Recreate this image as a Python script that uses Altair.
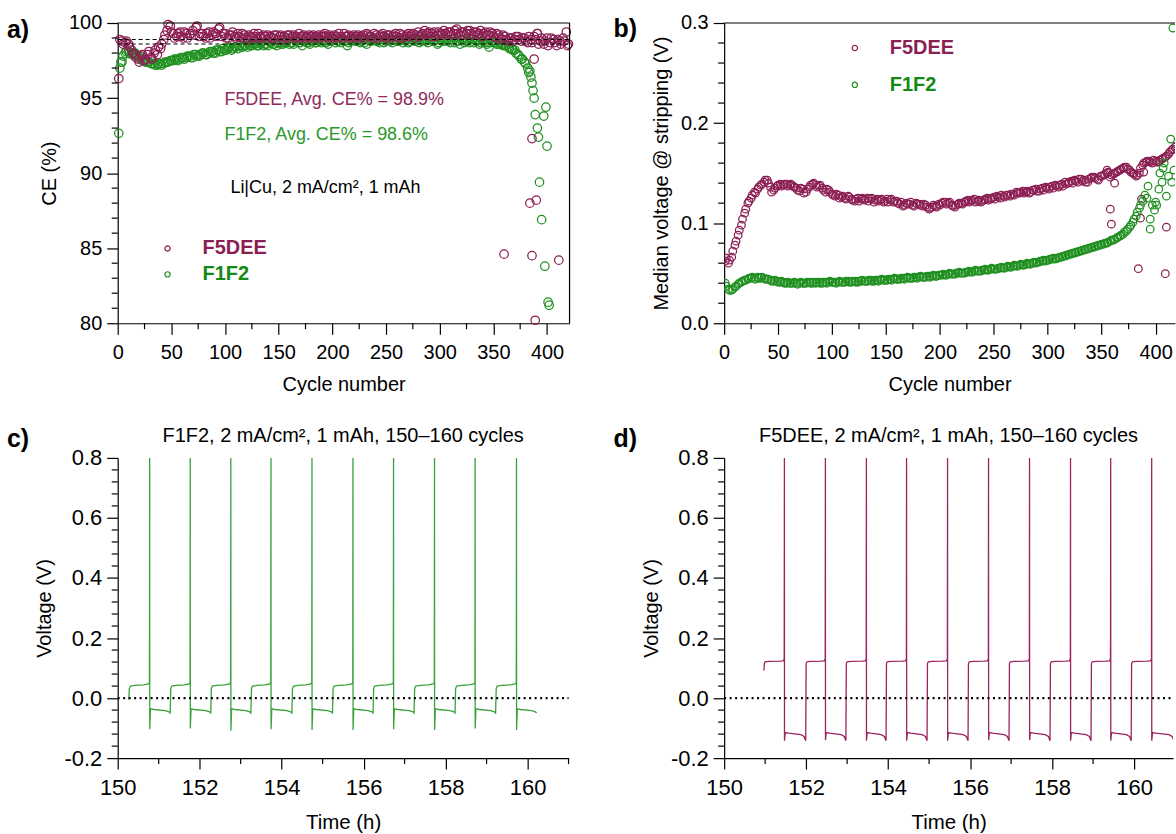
import altair as alt
import pandas as pd

FONT = "Liberation Sans"
MAROON = "#8B1E52"
GREEN = "#1F8F1F"
MAROON_TXT = "#8E2A5C"
GREEN_TXT = "#2A982A"
MAROON_LINE = "#9C2261"
GREEN_LINE = "#3AA23A"

# ---------------- panel a: Coulombic efficiency (%) ----------------
# series read every 3rd cycle: *_ce from cycle 1, *_ce2 from cycle 2 (F5DEE) / 5 (F1F2)
a_f5_ce = [96.3, 98.8, 98.7, 98.6, 98.2, 97.9, 97.6, 97.8, 97.5, 97.9,
           97.7, 98.0, 97.9, 98.3, 98.9, 99.5, 99.8, 99.3, 99.1, 99.4,
           99.0, 99.3, 99.2, 99.5, 99.7, 99.1, 99.3, 99.0, 99.4, 99.2,
           99.3, 99.6, 99.1, 99.3, 99.0, 99.2, 99.1, 99.3, 99.0, 99.2,
           98.9, 99.1, 99.3, 99.0, 99.1, 99.2, 98.9, 99.1, 99.0, 99.2,
           99.1, 98.9, 99.0, 99.2, 99.1, 99.0, 99.3, 99.1, 99.0, 99.2,
           99.1, 99.0, 99.2, 99.1, 99.3, 99.0, 99.1, 99.2, 99.0, 99.1,
           99.3, 99.1, 99.0, 99.2, 99.1, 99.0, 99.2, 99.3, 99.1, 99.0,
           99.2, 99.1, 99.3, 99.0, 99.2, 99.1, 99.3, 99.0, 99.2, 99.1,
           99.3, 99.2, 99.0, 99.4, 99.2, 99.5, 99.3, 99.1, 99.4, 99.2,
           99.3, 99.5, 99.2, 99.4, 99.3, 99.6, 99.2, 99.4, 99.3, 99.5,
           99.2, 99.4, 99.3, 99.1, 99.4, 99.2, 99.3, 99.0, 99.2, 98.9,
           99.1, 98.8, 99.0, 98.9, 99.1, 98.8, 99.0, 98.7, 98.9, 99.1,
           99.3, 98.8, 98.6, 99.0, 98.7, 98.9, 98.5, 98.8, 99.0, 99.4]
a_f5_ce2 = [98.9, 98.6, 98.8, 98.4, 98.0, 97.7, 97.4, 97.9, 97.6, 98.1,
            97.6, 98.2, 98.4, 98.6, 99.2, 99.9, 99.4, 99.0, 99.3, 99.1,
            99.4, 99.0, 99.3, 99.2, 99.8, 99.3, 99.1, 99.3, 99.0, 99.4,
            99.1, 99.7, 99.3, 99.0, 99.2, 99.4, 99.0, 99.1, 99.3, 99.0,
            99.2, 99.0, 99.1, 99.3, 99.0, 99.1, 99.2, 99.0, 99.2, 98.9,
            99.2, 99.1, 99.2, 99.0, 99.2, 99.1, 99.0, 99.2, 99.1, 99.0,
            99.2, 99.1, 99.0, 99.2, 99.1, 99.2, 99.0, 99.1, 99.3, 99.0,
            99.1, 99.2, 99.1, 99.0, 99.2, 99.1, 99.0, 99.2, 99.1, 99.3,
            99.0, 99.2, 99.1, 99.2, 99.0, 99.2, 99.1, 99.3, 99.0, 99.2,
            99.1, 99.3, 99.2, 99.1, 99.3, 99.2, 99.4, 99.3, 99.1, 99.4,
            99.2, 99.3, 99.4, 99.2, 99.5, 99.3, 99.4, 99.2, 99.5, 99.3,
            99.4, 99.2, 99.5, 99.3, 99.2, 99.4, 99.1, 99.3, 99.0, 99.2,
            98.9, 99.0, 98.8, 99.1, 98.9, 99.0, 98.8, 99.1, 98.7, 98.9,
            98.6, 99.0, 98.8, 98.5, 99.0, 98.7, 98.9, 98.6, 98.8, 98.5]
a_f5_extra_cycle = [360, 384, 386, 386, 388, 389, 390, 391, 411, 420]
a_f5_extra_ce = [84.6, 88.0, 84.5, 92.3, 97.6, 80.2, 88.2, 99.3, 84.2, 98.6]

a_f1_ce = [92.65, 97.4, 98.0, 98.1, 97.9, 98.0, 97.8, 97.6, 97.5, 97.4,
           97.3, 97.3, 97.2, 97.3, 97.3, 97.4, 97.5, 97.5, 97.6, 97.6,
           97.7, 97.7, 97.8, 97.7, 97.9, 97.8, 98.0, 97.9, 98.0, 98.1,
           98.0, 98.2, 98.1, 98.2, 98.3, 98.2, 98.4, 98.3, 98.4, 98.5,
           98.4, 98.5, 98.6, 98.5, 98.6, 98.5, 98.6, 98.7, 98.6, 98.5,
           98.7, 98.6, 98.7, 98.6, 98.7, 98.8, 98.7, 98.5, 98.8, 98.7,
           98.8, 98.7, 98.8, 98.7, 98.8, 98.6, 98.8, 98.9, 98.8, 98.7,
           98.8, 98.5, 98.8, 98.9, 98.8, 98.7, 98.9, 98.6, 98.8, 98.9,
           98.8, 98.7, 98.9, 98.8, 98.9, 98.7, 98.9, 98.8, 98.9, 98.8,
           98.7, 98.9, 98.8, 98.9, 98.8, 98.9, 98.7, 98.9, 98.8, 98.6,
           98.9, 98.8, 98.9, 98.7, 98.9, 98.8, 98.6, 98.9, 98.8, 98.7,
           98.9, 98.8, 98.6, 98.8, 98.7, 98.4, 98.8, 98.7, 98.6, 98.6,
           98.5, 98.4, 98.3, 98.2, 97.9, 97.6, 97.4, 97.0]
a_f1_ce2 = [97.8, 98.1, 98.0, 98.0, 97.9, 97.7, 97.5, 97.4, 97.4, 97.3,
            97.2, 97.3, 97.2, 97.4, 97.4, 97.5, 97.6, 97.5, 97.7, 97.6,
            97.8, 97.7, 97.9, 97.8, 97.9, 98.0, 97.9, 98.1, 98.0, 98.2,
            98.1, 98.3, 98.2, 98.4, 98.3, 98.4, 98.5, 98.4, 98.5, 98.6,
            98.5, 98.6, 98.5, 98.7, 98.6, 98.5, 98.7, 98.6, 98.7, 98.6,
            98.7, 98.8, 98.7, 98.6, 98.8, 98.7, 98.8, 98.7, 98.6, 98.8,
            98.7, 98.9, 98.8, 98.7, 98.8, 98.9, 98.7, 98.8, 98.9, 98.8,
            98.7, 98.9, 98.8, 98.9, 98.8, 98.7, 98.9, 98.8, 98.9, 98.8,
            98.9, 98.7, 98.9, 98.8, 98.9, 98.8, 98.9, 98.7, 98.9, 98.8,
            98.9, 98.8, 98.7, 98.9, 98.8, 98.9, 98.8, 98.9, 98.7, 98.8,
            98.9, 98.8, 98.9, 98.7, 98.8, 98.9, 98.7, 98.8, 98.9, 98.7,
            98.8, 98.7, 98.8, 98.6, 98.7, 98.8, 98.6, 98.7, 98.5, 98.5,
            98.3, 98.2, 98.0, 97.8, 97.6, 97.3]
a_f1_extra_cycle = [2, 3, 383, 384, 385, 386, 387, 388, 389, 391, 392, 393,
                    395, 397, 398, 399, 400, 401, 402]
a_f1_extra_ce = [97.0, 97.4, 96.7, 96.8, 96.4, 96.0, 95.5, 95.0, 93.9, 93.0,
                 92.4, 89.4, 86.9, 93.8, 83.8, 94.4, 91.8, 81.4, 81.2]
a_avg_ce = [98.9, 98.6]

# ---------------- panel b: median stripping voltage (V) ----------------
b_f5_v = [0.062, 0.060, 0.066, 0.078, 0.088, 0.098, 0.110, 0.120, 0.125, 0.131,
          0.134, 0.138, 0.141, 0.143, 0.136, 0.133, 0.137, 0.139, 0.138, 0.139,
          0.138, 0.137, 0.135, 0.132, 0.134, 0.131, 0.136, 0.139, 0.138, 0.137,
          0.135, 0.131, 0.133, 0.129, 0.127, 0.128, 0.126, 0.125, 0.127, 0.124,
          0.122, 0.125, 0.124, 0.123, 0.125, 0.124, 0.121, 0.124, 0.123, 0.121,
          0.124, 0.123, 0.121, 0.122, 0.119, 0.117, 0.120, 0.119, 0.118, 0.120,
          0.119, 0.117, 0.118, 0.114, 0.116, 0.117, 0.119, 0.120, 0.121, 0.120,
          0.118, 0.116, 0.119, 0.120, 0.121, 0.123, 0.122, 0.124, 0.122, 0.121,
          0.123, 0.125, 0.124, 0.126, 0.127, 0.125, 0.127, 0.128, 0.127, 0.129,
          0.131, 0.130, 0.132, 0.131, 0.130, 0.133, 0.134, 0.132, 0.135, 0.136,
          0.134, 0.137, 0.138, 0.136, 0.139, 0.141, 0.140, 0.142, 0.143, 0.141,
          0.144, 0.143, 0.141, 0.145, 0.146, 0.144, 0.147, 0.148, 0.150, 0.146,
          0.149, 0.151, 0.153, 0.155, 0.156, 0.153, 0.150, 0.147, 0.150, 0.158,
          0.161, 0.162, 0.160, 0.162, 0.161, 0.164, 0.166, 0.169, 0.173, 0.176]
b_f5_v2 = [0.065, 0.063, 0.072, 0.082, 0.093, 0.104, 0.114, 0.122, 0.128, 0.130,
           0.136, 0.139, 0.143, 0.140, 0.131, 0.135, 0.138, 0.137, 0.139, 0.137,
           0.139, 0.136, 0.133, 0.135, 0.130, 0.134, 0.138, 0.140, 0.136, 0.138,
           0.133, 0.134, 0.131, 0.128, 0.129, 0.125, 0.127, 0.124, 0.126, 0.123,
           0.124, 0.122, 0.125, 0.124, 0.122, 0.125, 0.123, 0.122, 0.124, 0.122,
           0.121, 0.124, 0.122, 0.120, 0.121, 0.118, 0.119, 0.121, 0.117, 0.119,
           0.118, 0.119, 0.116, 0.115, 0.118, 0.116, 0.118, 0.121, 0.119, 0.121,
           0.117, 0.118, 0.120, 0.119, 0.122, 0.121, 0.123, 0.121, 0.123, 0.122,
           0.124, 0.123, 0.125, 0.124, 0.126, 0.128, 0.126, 0.128, 0.129, 0.128,
           0.130, 0.131, 0.130, 0.132, 0.131, 0.133, 0.132, 0.134, 0.133, 0.135,
           0.136, 0.135, 0.137, 0.138, 0.137, 0.139, 0.141, 0.140, 0.142, 0.144,
           0.142, 0.141, 0.144, 0.146, 0.145, 0.143, 0.147, 0.149, 0.151, 0.148,
           0.150, 0.152, 0.154, 0.156, 0.154, 0.151, 0.149, 0.148, 0.155, 0.160,
           0.162, 0.161, 0.163, 0.161, 0.163, 0.165, 0.167, 0.171, 0.174, 0.177]
b_f5_extra_cycle = [355, 358, 359, 362, 384, 386, 387, 389, 409, 410]
b_f5_extra_v = [0.153, 0.114, 0.099, 0.140, 0.0545, 0.105, 0.124, 0.151, 0.0495, 0.096]

b_f1_v = [0.040, 0.034, 0.033, 0.036, 0.039, 0.041, 0.043, 0.044, 0.045, 0.045,
          0.046, 0.045, 0.045, 0.044, 0.043, 0.042, 0.042, 0.041, 0.041, 0.040,
          0.040, 0.040, 0.040, 0.040, 0.040, 0.040, 0.041, 0.040, 0.040, 0.041,
          0.040, 0.041, 0.041, 0.041, 0.041, 0.041, 0.041, 0.041, 0.042, 0.041,
          0.042, 0.041, 0.042, 0.042, 0.042, 0.043, 0.042, 0.043, 0.043, 0.043,
          0.043, 0.044, 0.044, 0.044, 0.044, 0.045, 0.045, 0.045, 0.045, 0.046,
          0.046, 0.046, 0.046, 0.047, 0.047, 0.047, 0.048, 0.048, 0.048, 0.049,
          0.049, 0.049, 0.050, 0.050, 0.050, 0.051, 0.051, 0.052, 0.052, 0.052,
          0.053, 0.053, 0.054, 0.054, 0.054, 0.055, 0.055, 0.056, 0.056, 0.057,
          0.057, 0.058, 0.058, 0.059, 0.059, 0.060, 0.060, 0.061, 0.062, 0.062,
          0.063, 0.064, 0.064, 0.065, 0.066, 0.067, 0.068, 0.069, 0.070, 0.071,
          0.072, 0.073, 0.074, 0.075, 0.076, 0.077, 0.078, 0.079, 0.080, 0.082,
          0.083, 0.085, 0.087, 0.089, 0.092, 0.096, 0.101, 0.107, 0.115, 0.122]
b_f1_v2 = [0.037, 0.033, 0.034, 0.037, 0.040, 0.042, 0.043, 0.045, 0.046, 0.044,
           0.045, 0.046, 0.044, 0.044, 0.042, 0.043, 0.041, 0.042, 0.040, 0.041,
           0.040, 0.041, 0.039, 0.041, 0.040, 0.041, 0.040, 0.041, 0.041, 0.040,
           0.041, 0.040, 0.042, 0.041, 0.040, 0.042, 0.041, 0.042, 0.041, 0.042,
           0.041, 0.042, 0.043, 0.042, 0.043, 0.042, 0.043, 0.042, 0.044, 0.043,
           0.044, 0.043, 0.045, 0.044, 0.045, 0.044, 0.046, 0.045, 0.046, 0.045,
           0.047, 0.046, 0.047, 0.046, 0.048, 0.047, 0.048, 0.049, 0.048, 0.050,
           0.049, 0.050, 0.051, 0.050, 0.051, 0.052, 0.051, 0.053, 0.052, 0.053,
           0.054, 0.053, 0.055, 0.054, 0.055, 0.056, 0.055, 0.057, 0.056, 0.058,
           0.057, 0.059, 0.058, 0.060, 0.059, 0.061, 0.061, 0.062, 0.063, 0.063,
           0.064, 0.065, 0.065, 0.066, 0.067, 0.068, 0.069, 0.070, 0.071, 0.072,
           0.073, 0.074, 0.075, 0.076, 0.077, 0.078, 0.079, 0.080, 0.081, 0.083,
           0.084, 0.086, 0.088, 0.091, 0.094, 0.098, 0.104, 0.111, 0.118]
b_f1_extra_cycle = [390, 392, 393, 395, 395, 397, 399, 400, 401, 403, 404, 406, 407,
                    408, 410, 412, 414, 415, 416, 417]
b_f1_extra_v = [0.128, 0.125, 0.137, 0.094, 0.104, 0.118, 0.113, 0.121, 0.118, 0.134,
                0.150, 0.141, 0.155, 0.160, 0.127, 0.147, 0.184, 0.141, 0.295, 0.153]

# ---------------- panel c: F1F2 voltage profile (h, V) ----------------
c_rise_t = [150.27, 151.28, 152.27, 153.25, 154.25, 155.24, 156.23, 157.23, 158.23, 159.22]
c_spike_t = [150.78, 151.77, 152.76, 153.74, 154.74, 155.74, 156.73, 157.73, 158.72, 159.73]
c_spike_top = [0.8, 0.8, 0.8, 0.8, 0.8, 0.8, 0.8, 0.8, 0.8, 0.8]
c_spike_low = [-0.104, -0.101, -0.109, -0.104, -0.106, -0.106, -0.104, -0.106, -0.101, -0.106]
c_first_v = -0.005
c_end_t = 160.22
c_strip_start = [(0.015, 0.032), (0.04, 0.040), (0.15, 0.042)]
c_strip_end = [(-0.15, 0.044), (-0.03, 0.047), (-0.005, 0.052)]
c_plate_start = [(0.02, -0.036), (0.1, -0.038)]
c_plate_end = [(-0.12, -0.042), (-0.03, -0.046), (0.0, -0.050)]

# ---------------- panel d: F5DEE voltage profile (h, V) ----------------
d_rise_t = [150.97, 151.99, 152.97, 153.95, 154.95, 155.95, 156.95, 157.95, 158.95, 159.93]
d_spike_t = [151.47, 152.47, 153.47, 154.45, 155.45, 156.45, 157.45, 158.45, 159.43, 160.43]
d_spike_top = [0.8, 0.8, 0.8, 0.8, 0.8, 0.8, 0.8, 0.8, 0.8, 0.8]
d_spike_low = [-0.142, -0.140, -0.142, -0.142, -0.142, -0.140, -0.140, -0.142, -0.142, -0.142]
d_first_v = 0.092
d_end_t = 160.97
d_strip_start = [(0.01, 0.115), (0.03, 0.121), (0.12, 0.122)]
d_strip_end = [(-0.12, 0.123), (-0.03, 0.124), (-0.005, 0.130)]
d_plate_start = [(0.02, -0.115), (0.1, -0.117)]
d_plate_end = [(-0.12, -0.122), (-0.04, -0.128), (0.0, -0.142)]


def build_trace(rise, spike, top, low, first_v, end_t, s_start, s_end, p_start, p_end):
    t, v = [], []
    for i, r in enumerate(rise):
        s = spike[i]
        if i == 0:
            t.append(r); v.append(first_v)
        for dt, vv in s_start:
            t.append(r + dt); v.append(vv)
        for dt, vv in s_end:
            t.append(s + dt); v.append(vv)
        t.append(s); v.append(top[i])
        t.append(s + 0.002); v.append(low[i])
        for dt, vv in p_start:
            t.append(s + dt); v.append(vv)
        nxt = rise[i + 1] if i + 1 < len(rise) else end_t
        for dt, vv in p_end:
            t.append(nxt + dt); v.append(vv)
    return pd.DataFrame({"t": t, "v": v, "i": list(range(len(t)))})


def every3(vals, start):
    return [start + 3 * i for i in range(len(vals))]


# ---------------- geometry / styling ----------------
W_A, W_B, W_C, W_D = 453, 452, 452, 450
H = 301
one = pd.DataFrame({"k": [0]})


def txt(s, x, y, size, color="black", weight="normal", align="left", baseline="middle"):
    return alt.Chart(one).mark_text(text=s, font=FONT, fontSize=size, fontWeight=weight,
                                    color=color, align=align, baseline=baseline).encode(
        x=alt.value(x), y=alt.value(y))


def legend_pt(x, y, color):
    return alt.Chart(one).mark_point(shape="circle", filled=False, size=28, strokeWidth=1.2,
                                     color=color, opacity=1).encode(x=alt.value(x), y=alt.value(y))


def hrule(w, y):
    return alt.Chart(one).mark_rule(color="black", strokeWidth=1.2).encode(
        x=alt.value(0), x2=alt.value(w), y=alt.value(y))


def minor_x(vals, scale, axis, h):
    return alt.Chart(pd.DataFrame({"m": vals})).mark_rule(color="black", strokeWidth=1.2).encode(
        x=alt.X("m:Q", scale=scale, axis=axis), y=alt.value(h), y2=alt.value(h + 6))


def minor_y(vals, scale, axis):
    return alt.Chart(pd.DataFrame({"m": vals})).mark_rule(color="black", strokeWidth=1.2).encode(
        y=alt.Y("m:Q", scale=scale, axis=axis), x=alt.value(-6), x2=alt.value(0))


def panel_letter(s, y):
    return txt(s, -111, y, 25, weight="bold", baseline="alphabetic")


def scatter(df, xs, ys, ax_x, ax_y, color, size, clip):
    return alt.Chart(df).mark_point(shape="circle", filled=False, size=size, strokeWidth=1.25,
                                    color=color, opacity=1, clip=clip).encode(
        x=alt.X("cycle:Q", scale=xs, axis=ax_x), y=alt.Y("val:Q", scale=ys, axis=ax_y))


# ---------------- panel a ----------------
xa = alt.Scale(domain=[0, 421], nice=False, zero=False)
ya = alt.Scale(domain=[80, 100], nice=False, zero=False)
df_a5 = pd.DataFrame({"cycle": every3(a_f5_ce, 1) + every3(a_f5_ce2, 2) + a_f5_extra_cycle,
                      "val": a_f5_ce + a_f5_ce2 + a_f5_extra_ce})
df_a1 = pd.DataFrame({"cycle": every3(a_f1_ce, 1) + every3(a_f1_ce2, 5) + a_f1_extra_cycle,
                      "val": a_f1_ce + a_f1_ce2 + a_f1_extra_ce})
ax_a_x = alt.Axis(values=list(range(0, 401, 50)), title="Cycle number", format="d")
ax_a_y = alt.Axis(values=[80, 85, 90, 95, 100], title="CE (%)", format="d")

avg_a = alt.Chart(pd.DataFrame({"avg": a_avg_ce})).mark_rule(
    color="black", strokeDash=[4, 3], strokeWidth=1.1).encode(
    y=alt.Y("avg:Q", scale=ya, axis=ax_a_y), x=alt.value(0), x2=alt.value(W_A))

panel_a = alt.layer(
    scatter(df_a1, xa, ya, ax_a_x, ax_a_y, GREEN, 72, False),
    scatter(df_a5, xa, ya, ax_a_x, ax_a_y, MAROON, 72, False),
    avg_a,
    minor_x([25, 75, 125, 175, 225, 275, 325, 375], xa, ax_a_x, H),
    minor_y([v for v in range(81, 100) if v % 5 != 0], ya, ax_a_y),
    hrule(W_A, 0),
    alt.Chart(one).mark_rule(color="black", strokeWidth=1.2).encode(
        x=alt.value(W_A), y=alt.value(0), y2=alt.value(H)),
    txt("F5DEE, Avg. CE% = 98.9%", 107, 77, 18, MAROON_TXT),
    txt("F1F2, Avg. CE% = 98.6%", 107, 112, 18, GREEN_TXT),
    txt("Li|Cu, 2 mA/cm², 1 mAh", 113, 165, 18),
    legend_pt(50, 226, MAROON), legend_pt(50, 252, GREEN),
    txt("F5DEE", 85, 226, 20, MAROON, "bold"),
    txt("F1F2", 85, 252, 20, "#138A13", "bold"),
    panel_letter("a)", 15),
).properties(width=W_A, height=H)

# ---------------- panel b ----------------
xb = alt.Scale(domain=[0, 418], nice=False, zero=False)
yb = alt.Scale(domain=[0, 0.3], nice=False, zero=False)
df_b5 = pd.DataFrame({"cycle": every3(b_f5_v, 1) + every3(b_f5_v2, 2) + b_f5_extra_cycle,
                      "val": b_f5_v + b_f5_v2 + b_f5_extra_v})
df_b1 = pd.DataFrame({"cycle": every3(b_f1_v, 1) + every3(b_f1_v2, 2) + b_f1_extra_cycle,
                      "val": b_f1_v + b_f1_v2 + b_f1_extra_v})
ax_b_x = alt.Axis(values=list(range(0, 401, 50)), title="Cycle number", format="d")
ax_b_y = alt.Axis(values=[0, 0.1, 0.2, 0.3], title="Median voltage @ stripping (V)",
                  format=".1f")
panel_b = alt.layer(
    scatter(df_b5, xb, yb, ax_b_x, ax_b_y, MAROON, 58, True),
    scatter(df_b1, xb, yb, ax_b_x, ax_b_y, GREEN, 58, True),
    minor_x([25, 75, 125, 175, 225, 275, 325, 375], xb, ax_b_x, H),
    minor_y([0.02, 0.04, 0.06, 0.08, 0.12, 0.14, 0.16, 0.18, 0.22, 0.24, 0.26, 0.28],
            yb, ax_b_y),
    hrule(W_B, 0),
    legend_pt(131, 25, MAROON), legend_pt(131, 62, GREEN),
    txt("F5DEE", 166, 25, 20, MAROON, "bold"),
    txt("F1F2", 166, 62, 20, "#138A13", "bold"),
    panel_letter("b)", 14),
).properties(width=W_B, height=H)

# ---------------- panels c and d ----------------
yv = alt.Scale(domain=[-0.2, 0.8], nice=False, zero=False)
minor_v = [-0.16, -0.12, -0.08, -0.04, 0.04, 0.08, 0.12, 0.16, 0.24, 0.28, 0.32, 0.36,
           0.44, 0.48, 0.52, 0.56, 0.64, 0.68, 0.72, 0.76]
v_label = "datum.value < 0 ? '-' + format(-datum.value, '.1f') : format(datum.value, '.1f')"


def volt_panel(df, color, xdom, width, minor_t, title, letter):
    xs = alt.Scale(domain=xdom, nice=False, zero=False)
    ax_x = alt.Axis(values=[150, 152, 154, 156, 158, 160], title="Time (h)", format="d",
                    labelFontSize=22, titleFontSize=20.5, titlePadding=15)
    ax_y = alt.Axis(values=[-0.2, 0, 0.2, 0.4, 0.6, 0.8], title="Voltage (V)",
                    labelExpr=v_label, labelFontSize=22, titleFontSize=20)
    line = alt.Chart(df).mark_line(color=color, strokeWidth=1.3, clip=True).encode(
        x=alt.X("t:Q", scale=xs, axis=ax_x), y=alt.Y("v:Q", scale=yv, axis=ax_y),
        order=alt.Order("i:Q"))
    zero = alt.Chart(pd.DataFrame({"z": [0.0]})).mark_rule(
        color="black", strokeDash=[2, 3.5], strokeWidth=2.2).encode(
        y=alt.Y("z:Q", scale=yv, axis=ax_y), x=alt.value(0), x2=alt.value(width))
    return alt.layer(
        line, zero,
        minor_x(minor_t, xs, ax_x, H),
        minor_y(minor_v, yv, ax_y),
        txt(title, width / 2, -22, 20, align="center"),
        panel_letter(letter, -11),
    ).properties(width=width, height=H)


df_c = build_trace(c_rise_t, c_spike_t, c_spike_top, c_spike_low, c_first_v, c_end_t,
                   c_strip_start, c_strip_end, c_plate_start, c_plate_end)
df_d = build_trace(d_rise_t, d_spike_t, d_spike_top, d_spike_low, d_first_v, d_end_t,
                   d_strip_start, d_strip_end, d_plate_start, d_plate_end)

panel_c = volt_panel(df_c, GREEN_LINE, [150, 161], W_C, [151, 153, 155, 157, 159, 161],
                     "F1F2, 2 mA/cm², 1 mAh, 150–160 cycles", "c)")
panel_d = volt_panel(df_d, MAROON_LINE, [150, 160.95], W_D, [151, 153, 155, 157, 159],
                     "F5DEE, 2 mA/cm², 1 mAh, 150–160 cycles", "d)")

top = alt.hconcat(panel_a, panel_b, spacing=38)
bottom = alt.hconcat(panel_c, panel_d, spacing=43)

chart = alt.vconcat(top, bottom, spacing=32).properties(
    padding={"left": 7, "top": 12, "right": 0, "bottom": 0},
    background="white",
).configure_axis(
    labelFont=FONT, titleFont=FONT, labelFontSize=20, titleFontSize=20,
    titleFontWeight="normal", labelColor="black", titleColor="black",
    tickColor="black", domainColor="black", tickWidth=1.2, domainWidth=1.2,
    tickSize=11, grid=False, labelFlush=False,
).configure_axisX(labelPadding=8, titlePadding=12).configure_axisY(
    labelPadding=5, titlePadding=9
).configure_view(stroke=None)

chart.save("out.html", embed_options={"renderer": "svg", "actions": False})
